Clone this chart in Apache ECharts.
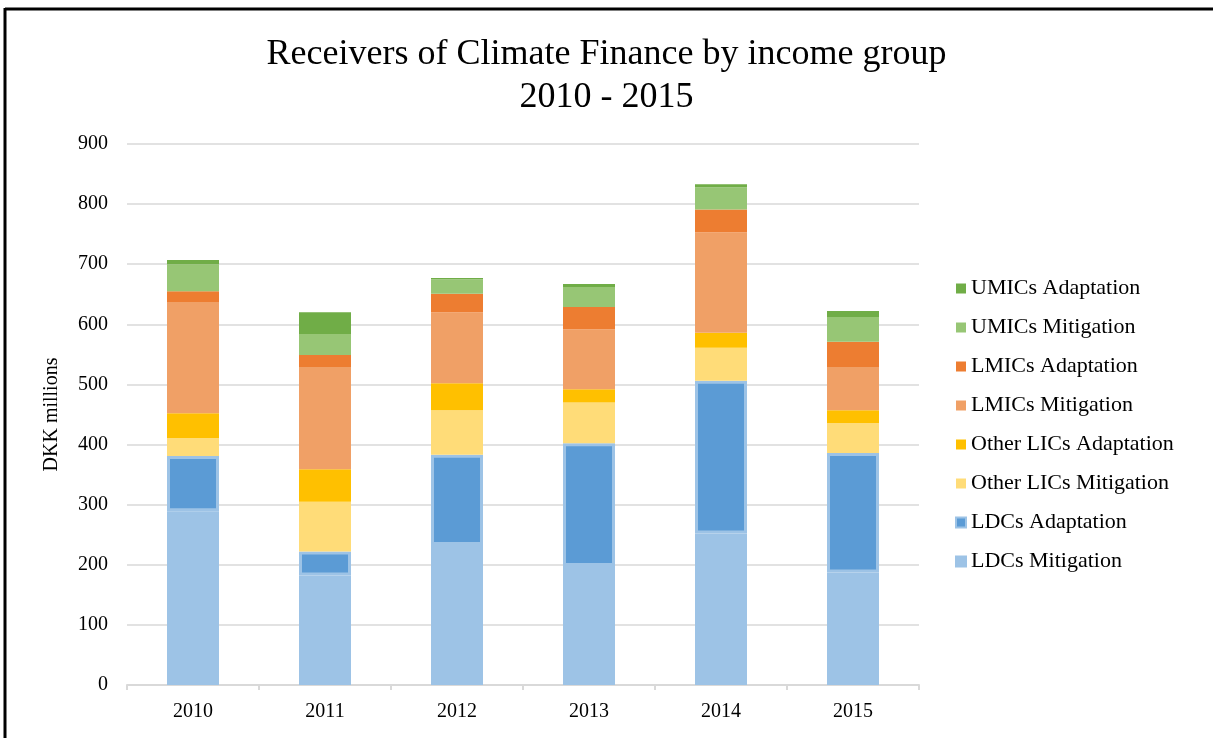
<!DOCTYPE html>
<html>
<head>
<meta charset="utf-8">
<title>Receivers of Climate Finance by income group</title>
<script src="https://cdn.jsdelivr.net/npm/echarts@6/dist/echarts.min.js"></script>
<style>
  html, body { margin: 0; padding: 0; background: #fff; }
  #main { width: 1213px; height: 738px; }
</style>
</head>
<body>
<div id="main"></div>
<script>
// years on the x axis
var years = ['2010', '2011', '2012', '2013', '2014', '2015'];

// DKK millions (stack order bottom -> top)
var ldcsMitigation      = [289, 182, 233, 198, 252, 187];
var ldcsAdaptation      = [92, 40, 150, 204, 254, 199];
var otherLicsMitigation = [30, 83, 74, 68, 55, 50];
var otherLicsAdaptation = [41, 54, 45, 22, 25, 21];
var lmicsMitigation     = [185, 170, 118, 100, 167, 72];
var lmicsAdaptation     = [18, 20, 31, 37, 38, 42];
var umicsMitigation     = [45, 35, 24, 33, 37, 41];
var umicsAdaptation     = [7, 36, 2, 5, 5, 10];

var yTicks = [0, 100, 200, 300, 400, 500, 600, 700, 800, 900];

var font = 'Liberation Serif, Times New Roman, serif';

function bar(name, data, color, border) {
  var s = {
    name: name,
    type: 'bar',
    stack: 'total',
    barWidth: 52,
    data: data,
    itemStyle: { color: color }
  };
  if (border) {
    s.itemStyle.borderColor = '#9dc3e6';
    s.itemStyle.borderWidth = 3;
  }
  return s;
}

var chart = echarts.init(document.getElementById('main'));
chart.setOption({
  backgroundColor: '#fff',
  animation: false,
  textStyle: { fontFamily: font },
  title: {
    text: 'Receivers of Climate Finance by income group\n2010 - 2015',
    left: 'center',
    top: 28,
    textStyle: {
      fontFamily: font,
      fontSize: 36,
      fontWeight: 'normal',
      color: '#000',
      lineHeight: 43
    }
  },
  legend: {
    orient: 'vertical',
    left: 950,
    top: 272,
    icon: 'rect',
    itemWidth: 10,
    itemHeight: 10,
    itemGap: 16,
    textStyle: { fontFamily: font, fontSize: 22, color: '#000', lineHeight: 23 },
    data: ['UMICs Adaptation', 'UMICs Mitigation', 'LMICs Adaptation', 'LMICs Mitigation',
           'Other LICs Adaptation', 'Other LICs Mitigation', 'LDCs Adaptation', 'LDCs Mitigation']
  },
  grid: { left: 127, right: 294, top: 144, bottom: 53 },
  xAxis: {
    type: 'category',
    data: years,
    axisLine: { lineStyle: { color: '#d9d9d9', width: 2 } },
    axisTick: { show: true, length: 5, lineStyle: { color: '#d9d9d9', width: 2 } },
    axisLabel: { fontFamily: font, fontSize: 20, color: '#000', margin: 17 }
  },
  yAxis: {
    type: 'value',
    min: yTicks[0],
    max: yTicks[yTicks.length - 1],
    interval: 100,
    name: 'DKK millions',
    nameLocation: 'middle',
    nameGap: 65,
    nameTextStyle: { fontFamily: font, fontSize: 20, color: '#000' },
    axisLine: { show: false },
    axisTick: { show: false },
    axisLabel: { fontFamily: font, fontSize: 20, color: '#000', margin: 19 },
    splitLine: { lineStyle: { color: '#d9d9d9', width: 1.5 } }
  },
  graphic: [
    { type: 'line', shape: { x1: 5, y1: 8, x2: 5, y2: 738 }, style: { stroke: '#000', lineWidth: 3 } },
    { type: 'line', shape: { x1: 5, y1: 9, x2: 1213, y2: 9 }, style: { stroke: '#000', lineWidth: 3 } }
  ],
  series: [
    bar('LDCs Mitigation', ldcsMitigation, '#9dc3e6', true),
    bar('LDCs Adaptation', ldcsAdaptation, '#5b9bd5', true),
    bar('Other LICs Mitigation', otherLicsMitigation, '#ffdc78'),
    bar('Other LICs Adaptation', otherLicsAdaptation, '#ffc000'),
    bar('LMICs Mitigation', lmicsMitigation, '#f0a066'),
    bar('LMICs Adaptation', lmicsAdaptation, '#ed7d31'),
    bar('UMICs Mitigation', umicsMitigation, '#97c675'),
    bar('UMICs Adaptation', umicsAdaptation, '#70ad47')
  ]
});
</script>
</body>
</html>
